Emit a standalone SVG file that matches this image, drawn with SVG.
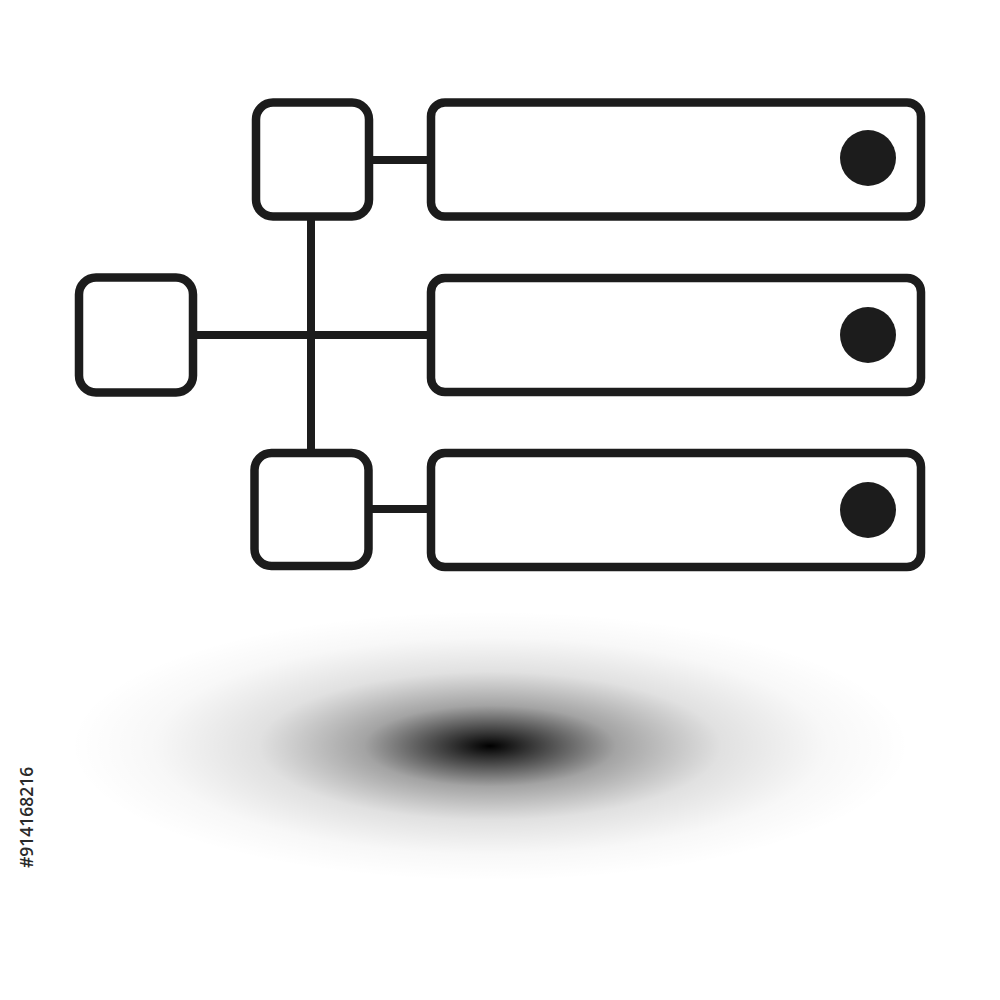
<svg xmlns="http://www.w3.org/2000/svg" width="1000" height="1000" viewBox="0 0 1000 1000">
  <style>
    .box { fill: #ffffff; stroke: #1c1c1c; stroke-width: 8.5; }
    .conn { stroke: #1c1c1c; stroke-width: 8; fill: none; }
    .dot { fill: #1c1c1c; }
    .id { font-family: "Open Sans", "DejaVu Sans", sans-serif; font-size: 17.5px; font-weight: 600; fill: #2a2a2a; }
  </style>
  <defs>
    <radialGradient id="shadow" cx="0.5" cy="0.5" r="0.5">
      <stop offset="0" stop-color="#000000" stop-opacity="1"/>
      <stop offset="0.1" stop-color="#000000" stop-opacity="0.78"/>
      <stop offset="0.3" stop-color="#000000" stop-opacity="0.36"/>
      <stop offset="0.55" stop-color="#000000" stop-opacity="0.12"/>
      <stop offset="0.8" stop-color="#000000" stop-opacity="0.03"/>
      <stop offset="1" stop-color="#000000" stop-opacity="0"/>
    </radialGradient>
  </defs>
  <rect x="0" y="0" width="1000" height="1000" fill="#ffffff"/>
  <ellipse cx="490" cy="746" rx="420" ry="135" fill="url(#shadow)"/>
  <g id="connectors">
    <line class="conn" x1="311" y1="218" x2="311" y2="452"/>
    <line class="conn" x1="194" y1="335" x2="430" y2="335"/>
    <line class="conn" x1="370" y1="160" x2="430" y2="160"/>
    <line class="conn" x1="370" y1="509" x2="430" y2="509"/>
  </g>
  <g id="node-top-small"><rect class="box" x="256" y="102.5" width="113" height="114" rx="17"/></g>
  <g id="node-left"><rect class="box" x="79" y="277.5" width="114" height="115" rx="17"/></g>
  <g id="node-bottom-small"><rect class="box" x="254.5" y="453" width="114" height="113" rx="17"/></g>
  <g id="node-bar-top">
    <rect class="box" x="431" y="102.5" width="490" height="114" rx="14"/>
    <circle class="dot" cx="868" cy="158" r="28"/>
  </g>
  <g id="node-bar-middle">
    <rect class="box" x="431" y="278" width="490" height="114" rx="14"/>
    <circle class="dot" cx="868" cy="335" r="28"/>
  </g>
  <g id="node-bar-bottom">
    <rect class="box" x="431" y="453" width="490" height="114" rx="14"/>
    <circle class="dot" cx="868" cy="510" r="28"/>
  </g>
  <text class="id" transform="translate(33,868) rotate(-90)">#914168216</text>
</svg>
